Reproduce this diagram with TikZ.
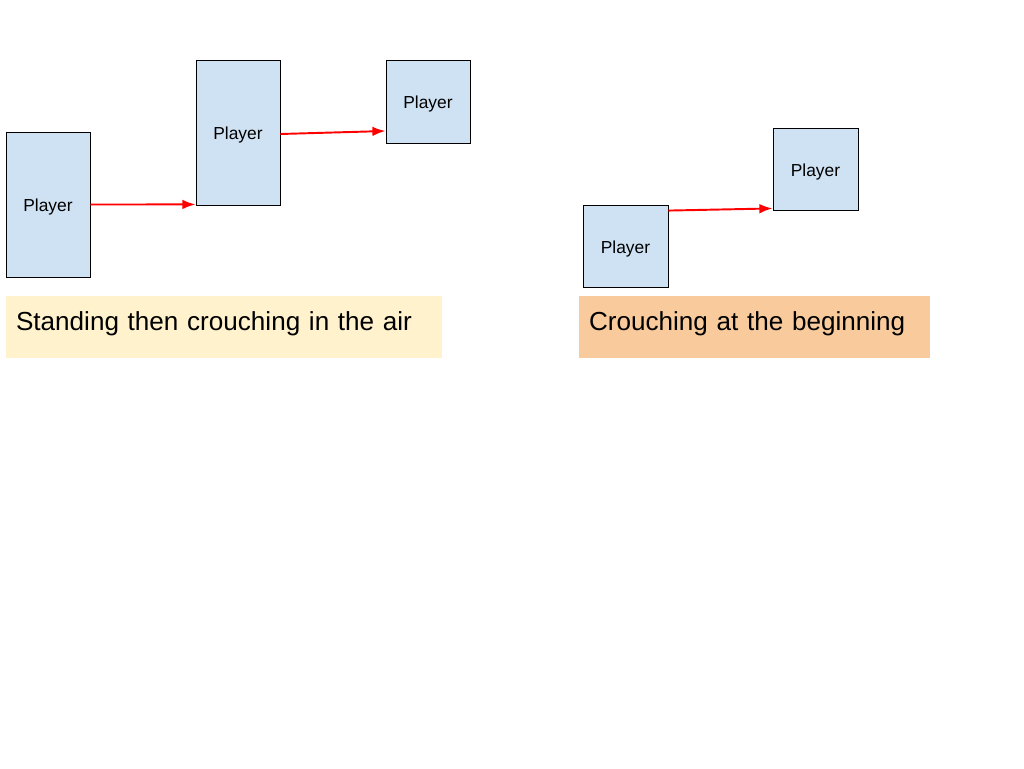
\documentclass[tikz,border=0pt]{standalone}
\usepackage{fontspec}
\setmainfont{Liberation Sans}
\usepackage{tikz}
\usetikzlibrary{arrows.meta}

\definecolor{playerblue}{HTML}{CFE2F3}
\definecolor{notebeige}{HTML}{FFF2CC}
\definecolor{noteorange}{HTML}{F9CB9C}

\tikzset{
    player/.style={draw=black, line width=0.5pt, fill=playerblue, minimum width=1.68cm,
        inner sep=0pt, text height=0.8em, text depth=0pt, font=\fontsize{9.9}{12}\selectfont},
    jump/.style={-{Latex[length=7.5pt,width=5.5pt]}, red, line width=1.1pt},
    note/.style={minimum height=1.24cm, inner xsep=0.2cm, inner ysep=0pt, align=left,
        text height=0.73em, text depth=0.31em, font=\fontsize{14.85}{18}\selectfont}
}

\begin{document}
\begin{tikzpicture}[x=0.02cm, y=-0.02cm]
    \useasboundingbox (0,0) rectangle (1024,768);

    % Standing then crouching
    \node[player, minimum height=2.9cm] (stand1) at (48,204.5) {Player};
    \node[player, minimum height=2.9cm] (stand2) at (238,132.5) {Player};
    \node[player, minimum height=1.66cm] (crouch1) at (428,101.5) {Player};
    \draw[jump] (stand1.east) -- ([yshift=0.02cm]stand2.south west);
    \draw[jump] ([yshift=-0.03cm]stand2.east) -- ([yshift=-0.59cm]crouch1.west);
    \node[note, fill=notebeige, text width=8.32cm] (airnote) at (224,327)
        {Standing then crouching in the air};

    % Crouching from the start
    \node[player, minimum width=1.7cm, minimum height=1.64cm] (crouch2) at (625.5,246) {Player};
    \node[player, minimum width=1.7cm, minimum height=1.64cm] (crouch3) at (815.5,169) {Player};
    \draw[jump] ([yshift=-0.12cm]crouch2.north east) -- ([yshift=0.04cm]crouch3.south west);
    \node[note, fill=noteorange, text width=6.62cm] (startnote) at (754.5,327)
        {Crouching at the beginning};
\end{tikzpicture}
\end{document}
